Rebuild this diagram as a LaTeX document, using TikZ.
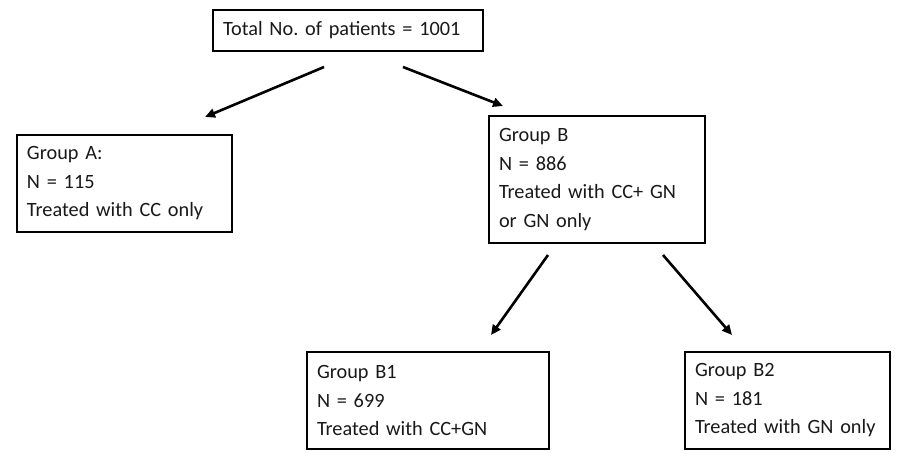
\documentclass[tikz,border=0pt]{standalone}
\usepackage{fontspec}
\setmainfont{Carlito}
\usetikzlibrary{arrows.meta}
\frenchspacing
\begin{document}
\begin{tikzpicture}[x=1pt,y=-1pt,
  box/.style={draw=black,line width=2.4pt,fill=white,align=left,inner xsep=10pt,inner ysep=0pt,
    font=\fontsize{20.3}{28.5}\selectfont,text=black!90},
  arr/.style={line width=2.6pt,-{Triangle[length=10pt,width=9pt]}}]
\useasboundingbox (0,0) rectangle (899,466);
\node[box,text width=250pt,minimum height=41pt] (top) at (348,30.5) {Total No. of patients = 1001};
\node[box,text width=195pt,minimum height=97pt] (A) at (124.5,183.5) {Group A:\\N = 115\\Treated with CC only};
\node[box,text width=196pt,minimum height=127pt] (B) at (597,179.5) {Group B\\N = 886\\Treated with CC+ GN\\or GN only};
\node[box,text width=222pt,minimum height=97pt] (B1) at (428,400.5) {Group B1\\N = 699\\Treated with CC+GN};
\node[box,text width=185pt,minimum height=97pt] (B2) at (787.5,400.5) {Group B2\\N = 181\\Treated with GN only};
\coordinate (t1) at (324,67);
\coordinate (a1) at (205,117);
\coordinate (t2) at (403,67);
\coordinate (b1) at (503,106);
\coordinate (s1) at (548,255);
\coordinate (e1) at (491,335);
\coordinate (s2) at (663,255);
\coordinate (e2) at (732,335);
\draw[arr] (t1) -- (a1);
\draw[arr] (t2) -- (b1);
\draw[arr] (s1) -- (e1);
\draw[arr] (s2) -- (e2);
\end{tikzpicture}
\end{document}
